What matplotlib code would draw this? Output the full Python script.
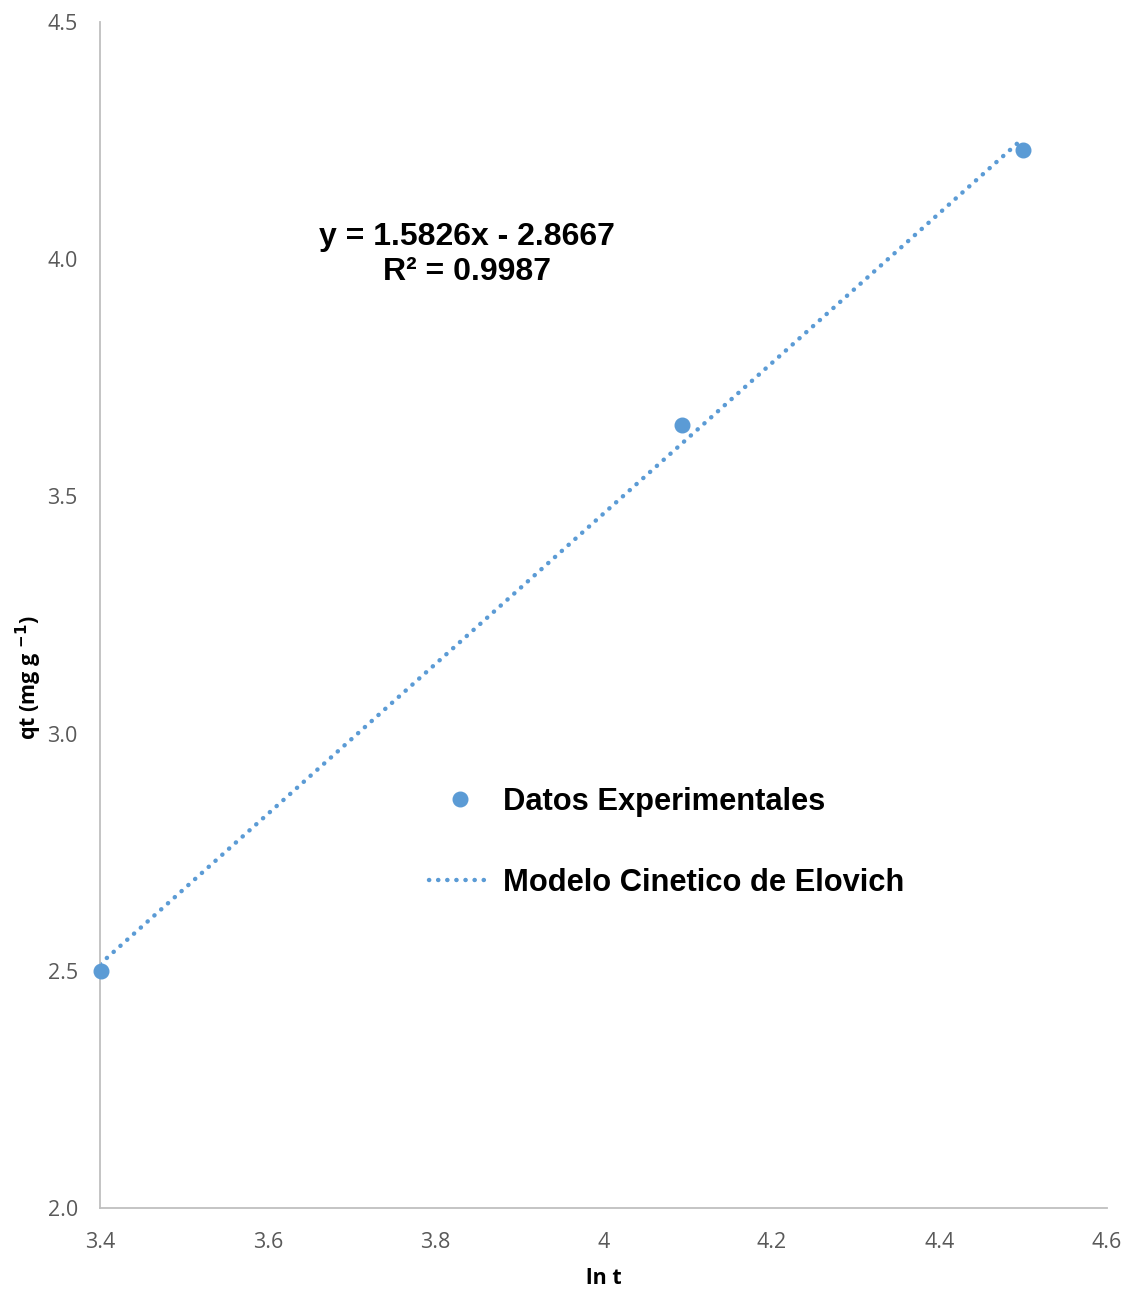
import numpy as np
import matplotlib.pyplot as plt

# data
ln_t = [3.401, 4.094, 4.500]
qt = [2.50, 3.65, 4.23]
slope = 1.5826
intercept = -2.8667
r2 = 0.9987
x_ticks = [3.4, 3.6, 3.8, 4.0, 4.2, 4.4, 4.6]
x_tick_labels = ["3.4", "3.6", "3.8", "4", "4.2", "4.4", "4.6"]
y_ticks = [2.0, 2.5, 3.0, 3.5, 4.0, 4.5]

blue = "#5B9BD5"
gray = "#595959"

fig = plt.figure(figsize=(11.29, 12.91), dpi=100)
ax = fig.add_axes([0.0886, 0.0643, 0.892, 0.9187])

xfit = np.array([3.4, 4.5])
ax.plot(xfit, slope * xfit + intercept, color=blue, lw=3.2,
        linestyle=(0, (0.05, 2.0)), dash_capstyle="round",
        label="Modelo Cinetico de Elovich", zorder=2)
ax.plot(ln_t, qt, "o", color=blue, ms=10.5, label="Datos Experimentales",
        zorder=3, clip_on=False)

ax.set_xlim(3.4, 4.6)
ax.set_ylim(2.0, 4.5)
ax.set_xticks(x_ticks)
ax.set_xticklabels(x_tick_labels)
ax.set_yticks(y_ticks)
ax.tick_params(length=0, labelsize=15.5, labelcolor=gray)
ax.tick_params(axis="x", pad=17)
ax.tick_params(axis="y", pad=16)
for lab in ax.get_xticklabels() + ax.get_yticklabels():
    lab.set_family("Open Sans")
for s in ["top", "right"]:
    ax.spines[s].set_visible(False)
for s in ["left", "bottom"]:
    ax.spines[s].set_color("#BFBFBF")
    ax.spines[s].set_linewidth(1.3)

ax.set_xlabel("ln t", fontsize=15.5, fontweight="bold", family="Open Sans")
ax.xaxis.set_label_coords(0.5, -0.0505)
ax.set_ylabel(r"qt (mg g $^{\mathbf{-1}}$)", fontsize=15.5, fontweight="bold",
              family="Open Sans")
ax.yaxis.set_label_coords(-0.056, 0.447)

ax.text(0.3645, 0.804, f"y = {slope}x - {abs(intercept)}\nR² = {r2}",
        transform=ax.transAxes, ha="center", va="center", fontsize=23,
        fontweight="bold", family="Liberation Sans", linespacing=1.25)

h, l = ax.get_legend_handles_labels()
ax.legend(h[::-1], l[::-1], loc="center left", bbox_to_anchor=(0.305, 0.308),
          frameon=False, prop={"family": "Liberation Sans", "weight": "bold",
                               "size": 22.2},
          handlelength=2.0, handletextpad=0.4, labelspacing=1.65,
          borderpad=0.2)

fig.savefig("out.png", dpi=100)
